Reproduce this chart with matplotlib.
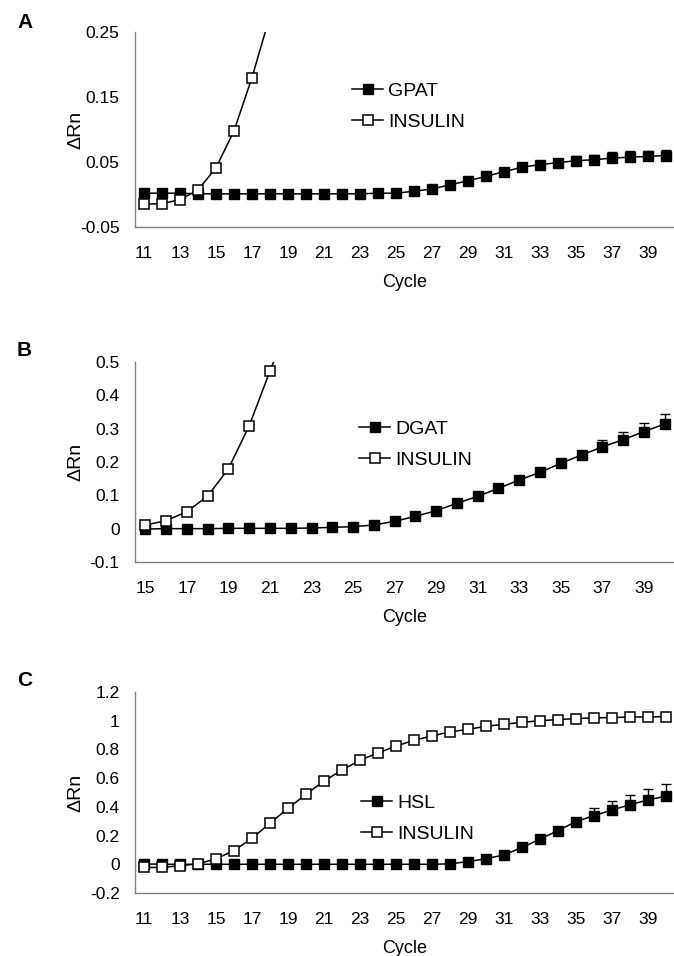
import matplotlib
matplotlib.use("Agg")
import matplotlib.pyplot as plt
import numpy as np

plt.rcParams['font.family'] = ['Liberation Sans', 'DejaVu Sans']

# ---------------- data ----------------
# Panel A
cyc_a = list(range(11, 41))
gpat = [0.002, 0.002, 0.002, 0.001, 0.001, 0.001, 0.001, 0.001, 0.001, 0.001,
        0.001, 0.001, 0.001, 0.002, 0.002, 0.005, 0.0085, 0.015, 0.021, 0.028,
        0.035, 0.042, 0.046, 0.049, 0.052, 0.0535, 0.056, 0.0575, 0.0585, 0.060]
gpat_err = [0]*22 + [0.003, 0.005, 0.007, 0.008, 0.009, 0.009, 0.009, 0.009]
cyc_a_ins = list(range(11, 19))
ins_a = [-0.015, -0.014, -0.008, 0.007, 0.041, 0.098, 0.180, 0.275]

# Panel B
cyc_b = list(range(15, 41))
dgat = [-0.001, 0.0, 0.0, 0.0, 0.001, 0.001, 0.001, 0.001, 0.002, 0.004,
        0.006, 0.011, 0.022, 0.037, 0.054, 0.076, 0.097, 0.121, 0.146, 0.169,
        0.196, 0.221, 0.245, 0.267, 0.291, 0.314]
dgat_err = [0]*20 + [0.005, 0.01, 0.02, 0.024, 0.026, 0.03]
cyc_b_ins = list(range(15, 23))
ins_b = [0.011, 0.024, 0.051, 0.098, 0.180, 0.309, 0.473, 0.63]

# Panel C
cyc_c = list(range(11, 41))
hsl = [0.003, 0.0, 0.0, 0.0, 0.0, 0.0, 0.0, 0.0, 0.0, 0.0,
       0.0, 0.0, 0.0, 0.0, 0.0, 0.0, 0.0, 0.003, 0.019, 0.038,
       0.066, 0.117, 0.175, 0.235, 0.297, 0.339, 0.378, 0.415, 0.448, 0.475]
hsl_err = [0]*23 + [0.01, 0.02, 0.05, 0.06, 0.07, 0.076, 0.084]
ins_c = [-0.022, -0.022, -0.01, 0.003, 0.038, 0.096, 0.181, 0.286, 0.39, 0.487,
         0.58, 0.656, 0.725, 0.776, 0.823, 0.864, 0.894, 0.922, 0.94, 0.961,
         0.975, 0.989, 1.0, 1.008, 1.015, 1.02, 1.022, 1.026, 1.026, 1.029]

W, H = 674, 956
fig = plt.figure(figsize=(W/100, H/100), dpi=100)

def add_axes(top, bottom, left=135, right=675):
    return fig.add_axes([left/W, 1 - bottom/H, (right-left)/W, (bottom-top)/H])

def style(ax, xlim, ylim, yticks, ylabels, xticks):
    ax.set_xlim(*xlim)
    ax.set_ylim(*ylim)
    ax.set_yticks(yticks)
    ax.set_yticklabels(ylabels)
    ax.set_xticks(xticks)
    ax.set_xticklabels([str(t) for t in xticks])
    for s in ['top', 'right']:
        ax.spines[s].set_visible(False)
    for s in ['left', 'bottom']:
        ax.spines[s].set_color('#808080')
        ax.spines[s].set_linewidth(1.0)
    ax.tick_params(axis='both', length=0, labelsize=12.5, colors='black')
    ax.tick_params(axis='y', pad=11)
    ax.tick_params(axis='x', pad=14)
    ax.set_xlabel('Cycle', fontsize=13, labelpad=9)
    ax.set_ylabel('ΔRn', fontsize=14, labelpad=6)

def plot_panel(ax, cx, gene, gerr, cx_ins, ins, gene_name):
    err = np.array(gerr)
    ax.errorbar(cx, gene, yerr=[np.zeros_like(err), err], fmt='none',
                ecolor='black', elinewidth=1.0, capsize=3.5, capthick=1.0, zorder=2)
    ax.plot(cx, gene, '-s', color='black', lw=1.1, ms=7, mfc='black', mec='black',
            label=gene_name, zorder=3)
    ax.plot(cx_ins, ins, '-s', color='black', lw=1.1, ms=6.5, mfc='white', mec='black',
            mew=1.1, label='INSULIN', zorder=4)

def legend(ax, x_px, y_px):
    ax.legend(loc='upper left', bbox_to_anchor=(x_px/W, 1 - y_px/H),
              bbox_transform=fig.transFigure, frameon=False, fontsize=14,
              handlelength=1.6, handletextpad=0.25, labelspacing=0.72,
              borderpad=0, borderaxespad=0, markerscale=1.0)

# Panel A
axA = add_axes(32, 227)
plot_panel(axA, cyc_a, gpat, gpat_err, cyc_a_ins, ins_a, 'GPAT')
style(axA, (10.5, 40.5), (-0.05, 0.25), [-0.05, 0.05, 0.15, 0.25],
      ['-0.05', '0.05', '0.15', '0.25'], list(range(11, 40, 2)))
legend(axA, 352, 82)
fig.text(17/W, 1 - 23/H, 'A', fontsize=15, fontweight='bold', ha='left', va='center')

# Panel B
axB = add_axes(362, 562)
plot_panel(axB, cyc_b, dgat, dgat_err, cyc_b_ins, ins_b, 'DGAT')
yb = [-0.1, 0, 0.1, 0.2, 0.3, 0.4, 0.5]
style(axB, (14.5, 40.5), (-0.1, 0.5), yb,
      ['-0.1', '0', '0.1', '0.2', '0.3', '0.4', '0.5'], list(range(15, 40, 2)))
legend(axB, 359, 420)
fig.text(17/W, 1 - 351/H, 'B', fontsize=15, fontweight='bold', ha='left', va='center')

# Panel C
axC = add_axes(692, 893)
plot_panel(axC, cyc_c, hsl, hsl_err, cyc_c, ins_c, 'HSL')
yc = [-0.2, 0, 0.2, 0.4, 0.6, 0.8, 1.0, 1.2]
style(axC, (10.5, 40.5), (-0.2, 1.2), yc,
      ['-0.2', '0', '0.2', '0.4', '0.6', '0.8', '1', '1.2'], list(range(11, 40, 2)))
legend(axC, 361, 794)
fig.text(17/W, 1 - 680/H, 'C', fontsize=15, fontweight='bold', ha='left', va='center')

for ax in (axA, axB, axC):
    ax.yaxis.set_label_coords(-0.093, 0.5)

fig.savefig('out.png', dpi=100)
